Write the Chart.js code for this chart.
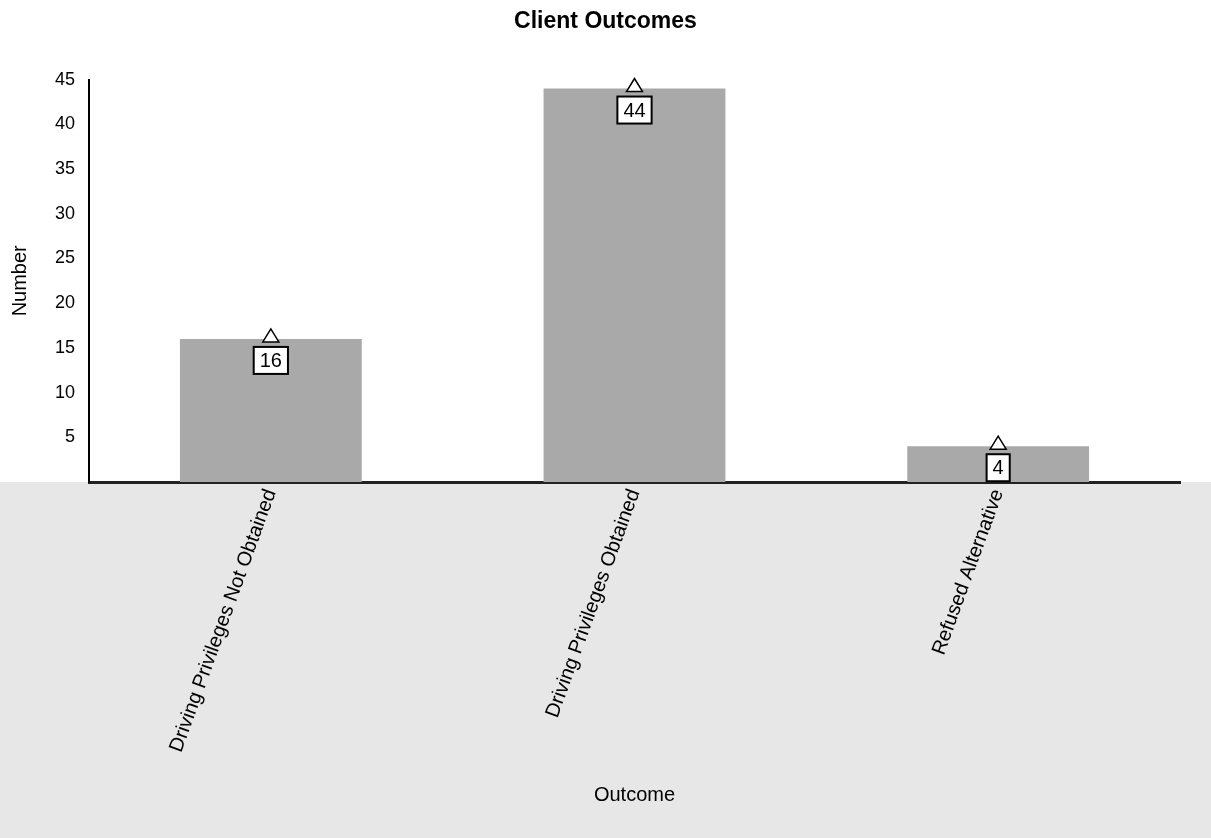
<!DOCTYPE html>
<html lang="en">
<head>
<meta charset="UTF-8">
<title>Client Outcomes</title>
<script src="https://cdn.jsdelivr.net/npm/chart.js"></script>
<style>
  body {
    margin: 0;
    padding: 0;
    background-color: #fff;
  }
  canvas {
    display: block;
  }
</style>
</head>
<body>
<canvas id="outcomeChart" width="1211" height="838"></canvas>
<script>
// values
const outcomes = ['Driving Privileges Not Obtained', 'Driving Privileges Obtained', 'Refused Alternative'];
const clientCounts = [16, 44, 4];
const yTicks = [5, 10, 15, 20, 25, 30, 35, 40, 45];

const fontFamily = '"Liberation Sans", Arial, sans-serif';

// grey halftone area below the x axis (scan background)
const backgroundPlugin = {
  id: 'scanBackground',
  beforeDraw(chart) {
    const ctx = chart.ctx;
    const area = chart.chartArea;
    ctx.save();
    ctx.fillStyle = '#ffffff';
    ctx.fillRect(0, 0, chart.width, chart.height);
    ctx.fillStyle = '#e7e7e7';
    ctx.fillRect(0, area.bottom, chart.width, chart.height - area.bottom);
    ctx.restore();
  }
};

// small triangle marker and boxed value at the top of each bar
const valueBoxPlugin = {
  id: 'valueBoxes',
  afterDatasetsDraw(chart) {
    const ctx = chart.ctx;
    const meta = chart.getDatasetMeta(0);
    ctx.save();
    ctx.font = '20px ' + fontFamily;
    ctx.textAlign = 'center';
    ctx.textBaseline = 'middle';
    meta.data.forEach((bar, i) => {
      const x = bar.x;
      const top = bar.y;

      // triangle
      ctx.beginPath();
      ctx.moveTo(x - 8, top + 3);
      ctx.lineTo(x + 8, top + 3);
      ctx.lineTo(x, top - 10);
      ctx.closePath();
      ctx.fillStyle = '#fff';
      ctx.fill();
      ctx.lineWidth = 1.5;
      ctx.strokeStyle = '#000';
      ctx.stroke();

      // value box
      const label = String(clientCounts[i]);
      const w = ctx.measureText(label).width + 12;
      const h = 27;
      const boxTop = top + 8;
      ctx.fillStyle = '#fff';
      ctx.fillRect(x - w / 2, boxTop, w, h);
      ctx.lineWidth = 2;
      ctx.strokeRect(x - w / 2, boxTop, w, h);
      ctx.fillStyle = '#000';
      ctx.fillText(label, x, boxTop + h / 2 + 1);
    });
    ctx.restore();
  }
};

const chartConfig = {
  type: 'bar',
  data: {
    labels: outcomes,
    datasets: [{
      label: 'Number',
      data: clientCounts,
      backgroundColor: '#a9a9a9',
      borderWidth: 0,
      categoryPercentage: 1.0,
      barPercentage: 0.5
    }]
  },
  options: {
    responsive: false,
    animation: false,
    layout: {
      padding: 0
    },
    plugins: {
      legend: { display: false },
      tooltip: { enabled: false },
      title: {
        display: true,
        text: 'Client Outcomes',
        color: '#000',
        font: { family: fontFamily, size: 23, weight: 'bold' },
        padding: { top: 8, bottom: 44 }
      }
    },
    scales: {
      x: {
        grid: { display: false, drawTicks: false },
        border: { display: true, color: '#222', width: 3 },
        ticks: {
          color: '#000',
          font: { family: fontFamily, size: 20 },
          autoSkip: false,
          minRotation: 70,
          maxRotation: 70,
          padding: 4
        },
        title: {
          display: true,
          text: 'Outcome',
          color: '#000',
          font: { family: fontFamily, size: 20 },
          padding: { top: 0, bottom: 31 }
        },
        afterFit(scale) {
          scale.height = 356;
          // keep the plot end short of the right edge, title stays centred on the page
          scale.paddingRight = 31;
        }
      },
      y: {
        min: 0,
        max: 45,
        afterBuildTicks(scale) {
          scale.ticks = yTicks.map(v => ({ value: v }));
        },
        grid: { display: false, drawTicks: false },
        border: { display: true, color: '#000', width: 2 },
        ticks: {
          color: '#000',
          font: { family: fontFamily, size: 18 },
          padding: 14
        },
        title: {
          display: true,
          text: 'Number',
          color: '#000',
          font: { family: fontFamily, size: 20 },
          padding: { top: 8, bottom: 0 }
        },
        afterFit(scale) {
          scale.width = 89;
        }
      }
    }
  },
  plugins: [backgroundPlugin, valueBoxPlugin]
};

const ctx = document.getElementById('outcomeChart').getContext('2d');
new Chart(ctx, chartConfig);
</script>
</body>
</html>
